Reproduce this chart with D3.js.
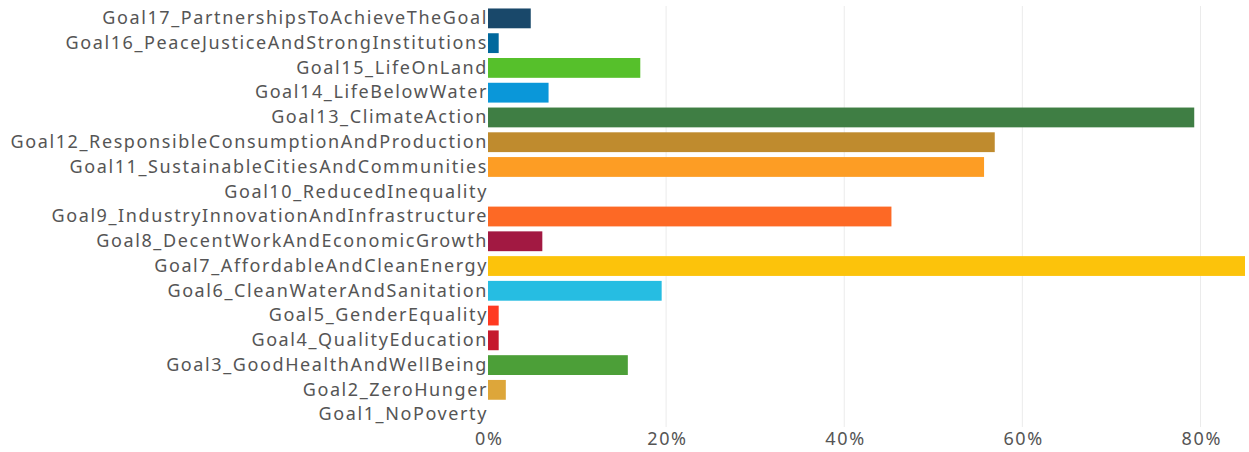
<!DOCTYPE html>
<html>
<head>
<meta charset="utf-8">
<script src="https://cdn.jsdelivr.net/npm/d3@7"></script>
<style>
  body { margin: 0; background: #fff; }
  text { font-family: "Noto Sans", sans-serif; fill: #555; letter-spacing: 1.6px; }
</style>
</head>
<body>
<div id="my_dataviz"></div>
<script>

// goals, top to bottom as drawn
var goals = [
  "Goal17_PartnershipsToAchieveTheGoal",
  "Goal16_PeaceJusticeAndStrongInstitutions",
  "Goal15_LifeOnLand",
  "Goal14_LifeBelowWater",
  "Goal13_ClimateAction",
  "Goal12_ResponsibleConsumptionAndProduction",
  "Goal11_SustainableCitiesAndCommunities",
  "Goal10_ReducedInequality",
  "Goal9_IndustryInnovationAndInfrastructure",
  "Goal8_DecentWorkAndEconomicGrowth",
  "Goal7_AffordableAndCleanEnergy",
  "Goal6_CleanWaterAndSanitation",
  "Goal5_GenderEquality",
  "Goal4_QualityEducation",
  "Goal3_GoodHealthAndWellBeing",
  "Goal2_ZeroHunger",
  "Goal1_NoPoverty"
]

// share of items per goal (fraction)
var shares = [0.048, 0.012, 0.171, 0.068, 0.793, 0.569, 0.557, 0, 0.453, 0.061,
              0.85, 0.195, 0.012, 0.012, 0.157, 0.020, 0]

// SDG colours
var colors = ["#19486A", "#00689D", "#56C02B", "#0A97D9", "#3F7E44", "#BF8B2E",
              "#FD9D24", "#DD1367", "#FD6925", "#A21942", "#FCC30B", "#26BDE2",
              "#FF3A21", "#C5192D", "#4C9F38", "#DDA63A", "#E5243B"]

var xTicks = [0, 0.2, 0.4, 0.6, 0.8]

var margin = {top: 6, right: 4, bottom: 25, left: 488},
    width = 1249 - margin.left - margin.right,
    height = 452 - margin.top - margin.bottom;

var svg = d3.select("#my_dataviz")
  .append("svg")
    .attr("width", 1249)
    .attr("height", 452)
  .append("g")
    .attr("transform", "translate(" + margin.left + "," + margin.top + ")");

var x = d3.scaleLinear()
  .domain([0, d3.max(shares)])
  .range([0, width]);

var y = d3.scaleBand()
  .domain(goals)
  .range([0, height])
  .paddingInner(0.2)
  .paddingOuter(0.1);

// vertical grid lines
svg.append("g")
  .selectAll("line")
  .data(xTicks.filter(function(d) { return d > 0 }))
  .enter().append("line")
    .attr("x1", function(d) { return x(d) })
    .attr("x2", function(d) { return x(d) })
    .attr("y1", 0)
    .attr("y2", height)
    .attr("stroke", "#ebebeb")
    .attr("stroke-width", 1);

// x axis
var xAxis = svg.append("g")
  .attr("transform", "translate(0," + height + ")")
  .call(d3.axisBottom(x).tickValues(xTicks).tickFormat(d3.format(".0%")).tickSize(0).tickPadding(5));
xAxis.select(".domain").remove();
xAxis.selectAll("text").style("font-size", "18px").attr("fill", "#555").attr("dx", "0.8px");

// y axis
var yAxis = svg.append("g")
  .call(d3.axisLeft(y).tickSize(0).tickPadding(0));
yAxis.select(".domain").remove();
yAxis.selectAll("text").style("font-size", "18px").attr("fill", "#555");

// bars
svg.append("g")
  .selectAll("rect")
  .data(goals)
  .enter().append("rect")
    .attr("x", 0)
    .attr("y", function(d) { return y(d) })
    .attr("width", function(d, i) { return x(shares[i]) })
    .attr("height", y.bandwidth())
    .attr("fill", function(d, i) { return colors[i] });

</script>
</body>
</html>
